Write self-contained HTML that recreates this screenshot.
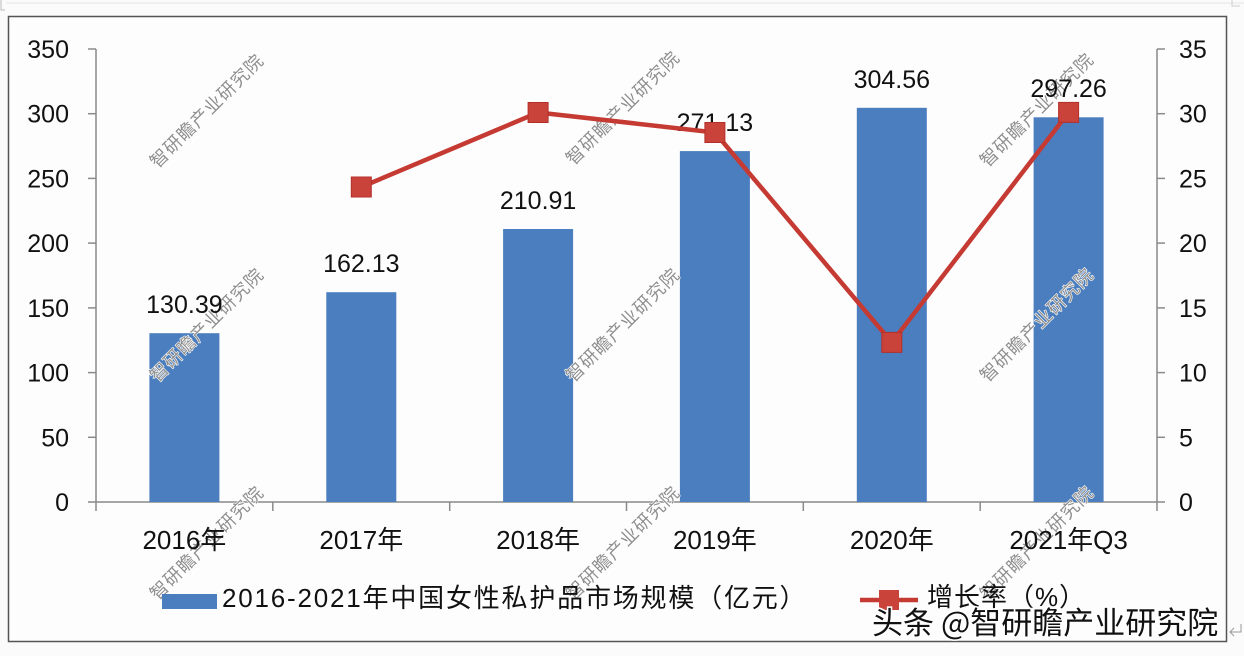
<!DOCTYPE html>
<html>
<head>
<meta charset="utf-8">
<style>
html,body{margin:0;padding:0;background:#fbfbfb;}
body{width:1244px;height:656px;overflow:hidden;}
svg{display:block;}
.t{font-family:"Liberation Sans","Noto Sans CJK SC",sans-serif;fill:#111;}
.wm{font-family:"Noto Sans CJK SC","WenQuanYi Zen Hei",sans-serif;font-size:18px;fill:#8f8f8f;stroke:#fff;stroke-width:1.2px;paint-order:stroke;letter-spacing:1px;}
</style>
</head>
<body>
<svg width="1244" height="656" viewBox="0 0 1244 656" xmlns="http://www.w3.org/2000/svg">
  <rect x="0" y="0" width="1244" height="656" fill="#fbfbfb"/>
  <line x1="6" y1="3" x2="1244" y2="3" stroke="#e4e4e4" stroke-width="1"/>
  <path d="M1 0 V10 H5" fill="none" stroke="#bbb" stroke-width="1"/>
  <path d="M1232 0 V6 H1240" fill="none" stroke="#ccc" stroke-width="1"/>
  <rect x="8.5" y="16.5" width="1218" height="625" fill="#fdfdfd" stroke="#555" stroke-width="1.5"/>

  <g stroke="#8a8a8a" stroke-width="1.5" fill="none">
    <line x1="96" y1="49" x2="96" y2="502"/>
    <line x1="88" y1="49" x2="96" y2="49"/>
    <line x1="88" y1="113.7" x2="96" y2="113.7"/>
    <line x1="88" y1="178.4" x2="96" y2="178.4"/>
    <line x1="88" y1="243.1" x2="96" y2="243.1"/>
    <line x1="88" y1="307.9" x2="96" y2="307.9"/>
    <line x1="88" y1="372.6" x2="96" y2="372.6"/>
    <line x1="88" y1="437.3" x2="96" y2="437.3"/>
    <line x1="1157" y1="49" x2="1157" y2="502"/>
    <line x1="1157" y1="49" x2="1165" y2="49"/>
    <line x1="1157" y1="113.7" x2="1165" y2="113.7"/>
    <line x1="1157" y1="178.4" x2="1165" y2="178.4"/>
    <line x1="1157" y1="243.1" x2="1165" y2="243.1"/>
    <line x1="1157" y1="307.9" x2="1165" y2="307.9"/>
    <line x1="1157" y1="372.6" x2="1165" y2="372.6"/>
    <line x1="1157" y1="437.3" x2="1165" y2="437.3"/>
    <line x1="88" y1="502" x2="1165" y2="502"/>
    <line x1="96" y1="502" x2="96" y2="511"/>
    <line x1="272.8" y1="502" x2="272.8" y2="511"/>
    <line x1="449.7" y1="502" x2="449.7" y2="511"/>
    <line x1="626.5" y1="502" x2="626.5" y2="511"/>
    <line x1="803.3" y1="502" x2="803.3" y2="511"/>
    <line x1="980.2" y1="502" x2="980.2" y2="511"/>
    <line x1="1157" y1="502" x2="1157" y2="511"/>
  </g>

  <g class="t" font-size="25" text-anchor="end">
    <text x="69" y="58">350</text>
    <text x="69" y="122.7">300</text>
    <text x="69" y="187.4">250</text>
    <text x="69" y="252.1">200</text>
    <text x="69" y="316.9">150</text>
    <text x="69" y="381.6">100</text>
    <text x="69" y="446.3">50</text>
    <text x="69" y="511">0</text>
  </g>
  <g class="t" font-size="25" text-anchor="start">
    <text x="1179" y="58">35</text>
    <text x="1179" y="122.7">30</text>
    <text x="1179" y="187.4">25</text>
    <text x="1179" y="252.1">20</text>
    <text x="1179" y="316.9">15</text>
    <text x="1179" y="381.6">10</text>
    <text x="1179" y="446.3">5</text>
    <text x="1179" y="511">0</text>
  </g>

  <g fill="#4a7ebf">
    <rect x="149.4" y="333.2" width="70" height="168.8"/>
    <rect x="326.3" y="292.2" width="70" height="209.8"/>
    <rect x="503.1" y="229.0" width="70" height="273.0"/>
    <rect x="679.9" y="151.1" width="70" height="350.9"/>
    <rect x="856.8" y="107.8" width="70" height="394.2"/>
    <rect x="1033.6" y="117.3" width="70" height="384.7"/>
  </g>

  <!-- watermarks (under labels) -->
  <g class="wm" text-anchor="middle">
    <text transform="translate(207,111) rotate(-45)" y="6">智研瞻产业研究院</text>
    <text transform="translate(623,108) rotate(-45)" y="6">智研瞻产业研究院</text>
    <text transform="translate(1037,110) rotate(-45)" y="6">智研瞻产业研究院</text>
    <text transform="translate(207,325) rotate(-45)" y="6">智研瞻产业研究院</text>
    <text transform="translate(623,325) rotate(-45)" y="6">智研瞻产业研究院</text>
    <text transform="translate(1037,325) rotate(-45)" y="6">智研瞻产业研究院</text>
    <text transform="translate(207,543) rotate(-45)" y="6">智研瞻产业研究院</text>
    <text transform="translate(623,543) rotate(-45)" y="6">智研瞻产业研究院</text>
    <text transform="translate(1037,543) rotate(-45)" y="6">智研瞻产业研究院</text>
  </g>

  <g class="t" font-size="25" text-anchor="middle">
    <text x="184.4" y="313">130.39</text>
    <text x="361.3" y="272">162.13</text>
    <text x="538.1" y="209">210.91</text>
    <text x="714.9" y="131">271.13</text>
    <text x="891.8" y="88">304.56</text>
    <text x="1068.6" y="97">297.26</text>
  </g>

  <polyline points="361.3,187 538.1,112.5 714.9,132.5 891.8,342.4 1068.6,112.4" fill="none" stroke="#c53a32" stroke-width="4.5" stroke-linejoin="round"/>
  <g fill="#c9433b" stroke="#b3302a" stroke-width="1">
    <rect x="351.3" y="177" width="20" height="20"/>
    <rect x="528.1" y="102.5" width="20" height="20"/>
    <rect x="704.9" y="122.5" width="20" height="20"/>
    <rect x="881.8" y="332.4" width="20" height="20"/>
    <rect x="1058.6" y="102.4" width="20" height="20"/>
  </g>

  <g class="t" font-size="26" text-anchor="middle">
    <text x="184.4" y="549">2016年</text>
    <text x="361.3" y="549">2017年</text>
    <text x="538.1" y="549">2018年</text>
    <text x="714.9" y="549">2019年</text>
    <text x="891.8" y="549">2020年</text>
    <text x="1068.6" y="549">2021年Q3</text>
  </g>

  <rect x="162" y="594" width="55" height="15" fill="#4a7ebf"/>
  <text class="t" x="222" y="607" font-size="26" letter-spacing="1.8">2016-2021年中国女性私护品市场规模（亿元）</text>
  <line x1="860" y1="600" x2="918" y2="600" stroke="#c53a32" stroke-width="4.5"/>
  <rect x="879" y="590" width="20" height="20" fill="#c9433b"/>
  <text class="t" x="927" y="606" font-size="26" letter-spacing="1">增长率（%）</text>

  <text x="872" y="634" font-family="'Noto Sans CJK SC','WenQuanYi Zen Hei',sans-serif" font-size="31" fill="#111" stroke="#fff" stroke-width="3" paint-order="stroke">头条 @智研瞻产业研究院</text>

  <path d="M1241 624 V632 H1230 M1234 628 L1230 632 L1234 636" fill="none" stroke="#999" stroke-width="1"/>
</svg>
</body>
</html>
